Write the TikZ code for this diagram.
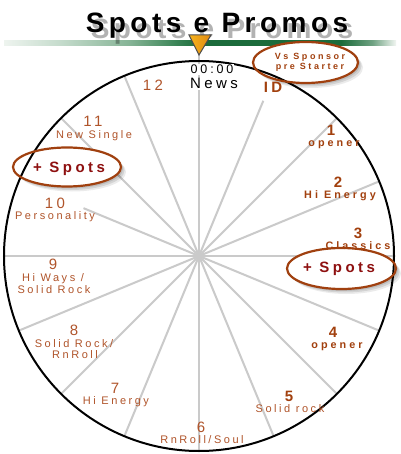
\documentclass[tikz,border=0pt]{standalone}
\usepackage{fontspec}
\usetikzlibrary{shapes.geometric,calc}
\newfontfamily\lab[LetterSpace=23]{Liberation Sans}
\newfontfamily\labw[LetterSpace=28]{Liberation Sans}
\newfontfamily\ttl[LetterSpace=16]{Liberation Sans}
\definecolor{labc}{HTML}{B0542A}
\definecolor{labb}{HTML}{A2400E}
\definecolor{spotc}{HTML}{8E1010}
\definecolor{ellc}{HTML}{A0400F}
\definecolor{spokec}{HTML}{CACACA}
\definecolor{gb0}{HTML}{EEF4EF}
\definecolor{gb1}{HTML}{C6DCCD}
\definecolor{gb2}{HTML}{86B496}
\definecolor{gb3}{HTML}{3A8456}
\definecolor{gb4}{HTML}{1B6B3B}
\definecolor{gb5}{HTML}{6FA282}
\definecolor{gb6}{HTML}{F2F6F2}
\definecolor{trif}{HTML}{F4A024}
\definecolor{trid}{HTML}{E08A12}
\pgfdeclarehorizontalshading{greenband}{100bp}{color(0bp)=(gb0); color(25bp)=(gb0); color(32bp)=(gb1); color(41bp)=(gb2); color(47bp)=(gb3); color(50bp)=(gb4); color(68bp)=(gb4); color(72bp)=(gb5); color(75bp)=(gb6); color(100bp)=(gb6)}
\tikzset{
  ttlstyle/.style={font=\ttl\bfseries\fontsize{28}{28}\selectfont, anchor=base, inner sep=0pt},
  spoke/.style={draw=spokec, line width=2pt},
  num/.style={font=\lab\fontsize{15}{15}\selectfont, text=labc, anchor=base, inner sep=0pt},
  numb/.style={font=\lab\bfseries\fontsize{15}{15}\selectfont, text=labb, anchor=base, inner sep=0pt},
  lbl/.style={font=\lab\fontsize{11}{11}\selectfont, text=labc, anchor=base, inner sep=0pt},
  lblb/.style={font=\labw\bfseries\fontsize{10.8}{10.8}\selectfont, text=labb, anchor=base, inner sep=0pt},
  spots/.style={font=\lab\bfseries\fontsize{15}{15}\selectfont, text=spotc, anchor=base, inner sep=0pt},
  oval/.style={ellipse, draw=ellc, line width=2.2pt, inner sep=0pt},
  topl/.style={font=\lab\fontsize{#1}{#1}\selectfont, text=black, anchor=base, inner sep=0pt}
}
\begin{document}
\begin{tikzpicture}[x=1pt,y=-1pt]
\useasboundingbox (0,0) rectangle (400,454);
\fill[white] (0,0) rectangle (400,454);
% green band
\shade[shading=greenband] (4,40.5) rectangle (396,45.5);
% title shadow and title
\node[ttlstyle, text=black, opacity=0.3] (tsh) at (222,39) {Spots e Promos};
\node[ttlstyle] (title) at (217,33) {Spots e Promos};
% spokes
\coordinate (C) at (199,256);
\foreach \a/\r in {0/195,22.5/195,45/195,67.5/195,90/195,112.5/195,135/195,157.5/195,180/195,202.5/125,225/195,247.5/195,270/201,292.5/168,315/195,337.5/195}
  \draw[spoke] (C) -- ++(\a:\r);
% oval shadows and white fills
\foreach \cx/\cy/\rx/\ry in {305.5/62.5/52.5/20.5, 67/167/54/19.5, 341.5/268.5/54.5/20.5}{
  \foreach \o/\op in {2/0.10,3.5/0.10,5/0.08}
    \fill[black, opacity=\op] (\cx+\o,\cy+\o) ellipse [x radius=\rx, y radius=\ry];
  \fill[white] (\cx,\cy) ellipse [x radius=\rx, y radius=\ry];
}
% main circle
\draw[black, line width=2pt] (C) circle [radius=195];
% ovals
\node[oval, minimum width=105pt, minimum height=41pt] (ov1) at (305.5,62.5) {};
\node[oval, minimum width=108pt, minimum height=39pt] (ov2) at (67,167) {};
\node[oval, minimum width=109pt, minimum height=41pt] (ov3) at (341.5,268.5) {};
% top labels
\node[topl=12.5, fill=white, inner sep=1pt] (t0) at (212,74) {00:00};
\node[topl=15, fill=white, inner sep=1pt] (tn) at (214,89) {News};
\node[num] (n12) at (153,91) {12};
\node[numb] (nid) at (273,93) {ID};
\node[font=\labw\bfseries\fontsize{9}{9}\selectfont, text=labb, anchor=base, inner sep=0pt] (vs1) at (310,60) {Vs Sponsor};
\node[font=\labw\bfseries\fontsize{9}{9}\selectfont, text=labb, anchor=base, inner sep=0pt] (vs2) at (310,70) {pre Starter};
% left side
\node[num] (n11) at (93,127) {11};
\node[lbl] (l11) at (94,139) {New Single};
\node[spots] (sp1) at (69,172) {+ Spots};
\node[num] (n10) at (55,208) {10};
\node[lbl] (l10) at (55,219) {Personality};
\node[num] (n9) at (53,269) {9};
\node[lbl] (l9a) at (53,281) {Hi Ways /};
\node[lbl] (l9b) at (54,293) {Solid Rock};
\node[num] (n8) at (74,335) {8};
\node[lbl] (l8a) at (74,347) {Solid Rock/};
\node[lbl] (l8b) at (75,358) {RnRoll};
\node[num] (n7) at (115,393) {7};
\node[lbl] (l7) at (116,404) {Hi Energy};
\node[num] (n6) at (201,432) {6};
\node[lbl] (l6) at (202,443) {RnRoll/Soul};
% right side
\node[numb] (n5) at (289,401) {5};
\node[lbl] (l5) at (290,412) {Solid rock};
\node[numb] (n4) at (333,337) {4};
\node[lblb] (l4) at (337,348) {opener};
\node[spots] (sp2) at (339,272) {+ Spots};
\node[numb] (n3) at (358,238) {3};
\node[lblb] (l3) at (358,249) {Classics};
\node[numb] (n2) at (338,187) {2};
\node[lblb] (l2) at (340,198) {Hi Energy};
\node[numb] (n1) at (331,136) {1};
\node[lblb] (l1) at (334,147) {opener};
% marker triangle
\draw[draw=black!70, line width=1pt, left color=trif!80!yellow, right color=trid] (189,35) -- (211,35) -- (199,55) -- cycle;
\end{tikzpicture}
\end{document}
